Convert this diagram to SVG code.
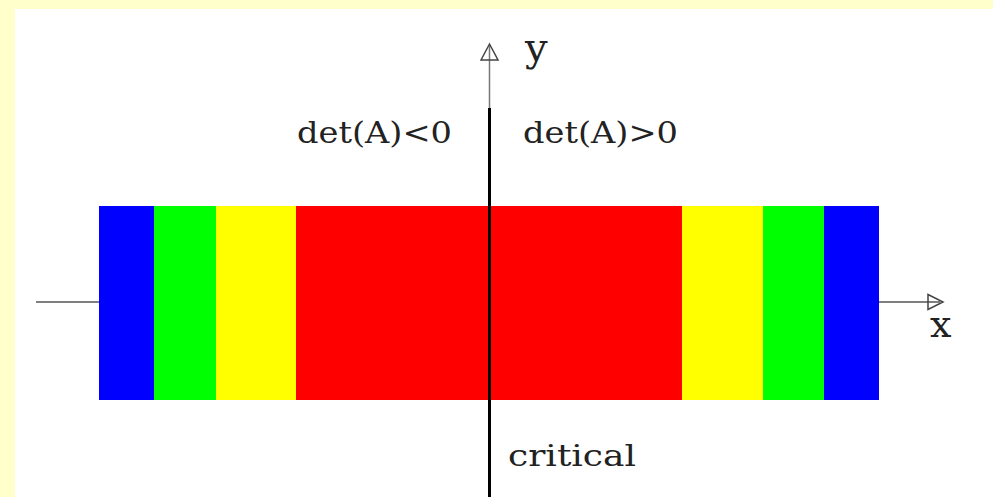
<svg xmlns="http://www.w3.org/2000/svg" width="993" height="497" viewBox="0 0 993 497">
<style>
.lbl{font-family:"DejaVu Serif","Liberation Serif",serif;fill:#222;}
.ax{stroke:#555;stroke-width:1.5;fill:none;}
.head{fill:none;stroke:#444;stroke-width:1.5;stroke-linejoin:miter;}
</style>
<rect x="0" y="0" width="993" height="497" fill="#FFFFCC"/>
<rect x="15" y="9" width="978" height="488" fill="#FFFFFF"/>
<g id="bar">
<rect x="99" y="206" width="55" height="194" fill="#0000FF"/>
<rect x="154" y="206" width="62" height="194" fill="#00FF00"/>
<rect x="216" y="206" width="80" height="194" fill="#FFFF00"/>
<rect x="296" y="206" width="386" height="194" fill="#FF0000"/>
<rect x="682" y="206" width="81" height="194" fill="#FFFF00"/>
<rect x="763" y="206" width="61" height="194" fill="#00FF00"/>
<rect x="824" y="206" width="55" height="194" fill="#0000FF"/>
</g>
<g id="connectors">
<line class="ax" x1="36" y1="302" x2="99" y2="302"/>
<line class="ax" x1="879" y1="302" x2="940" y2="302"/>
<polygon class="head" points="928,294.5 943,302 928,309.5"/>
<line x1="489.5" y1="46" x2="489.5" y2="108" stroke="#777" stroke-width="1.5"/>
<polygon class="head" points="481,60 489.5,44 498,60"/>
<line x1="489.5" y1="108" x2="489.5" y2="497" stroke="#000" stroke-width="3"/>
</g>
<g id="labels">
<text class="lbl" x="525" y="61" font-size="40">y</text>
<text class="lbl" x="930" y="337" font-size="38">x</text>
<text class="lbl" x="297" y="143" font-size="29" textLength="155" lengthAdjust="spacingAndGlyphs">det(A)&lt;0</text>
<text class="lbl" x="523" y="143" font-size="29" textLength="155" lengthAdjust="spacingAndGlyphs">det(A)&gt;0</text>
<text class="lbl" x="508" y="466" font-size="29" textLength="128" lengthAdjust="spacingAndGlyphs">critical</text>
</g>
</svg>
